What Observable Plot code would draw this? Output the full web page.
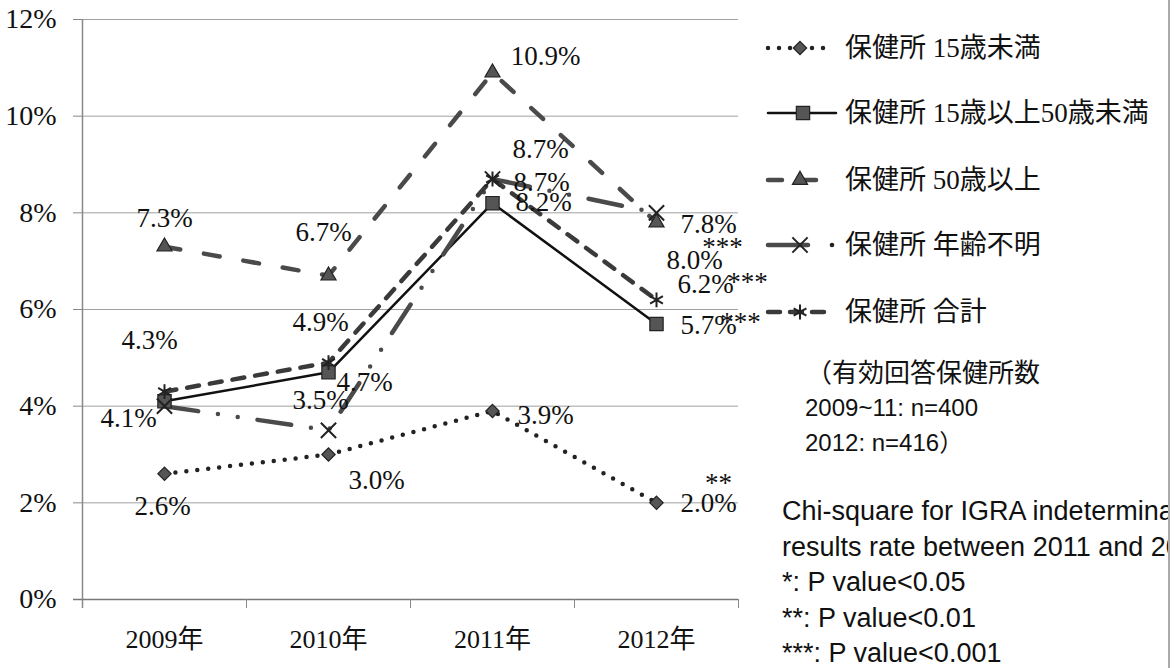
<!DOCTYPE html>
<html><head><meta charset="utf-8">
<script src="https://cdn.jsdelivr.net/npm/d3@7"></script>
<script src="https://cdn.jsdelivr.net/npm/@observablehq/plot@0.6"></script>
<style>
body{margin:0;background:#fff;}
#wrap{position:relative;width:1175px;height:668px;overflow:hidden;background:#fff;}
#chart,#overlay{position:absolute;left:0;top:0;}
.note{position:absolute;font-family:"Liberation Sans","Noto Sans CJK JP",sans-serif;font-size:24px;color:#111;white-space:nowrap;line-height:1;}
#stats{position:absolute;left:782px;top:496px;width:386px;overflow:hidden;}
#stats div{font-family:"Liberation Sans",sans-serif;font-size:27px;color:#111;white-space:nowrap;height:35.5px;line-height:30px;}
#border{position:absolute;left:1168px;top:0;width:2px;height:668px;background:#aaa;}
</style></head>
<body><div id="wrap"><div id="chart"></div><svg id="overlay" width="1175" height="668"></svg>
<div class="note" style="left:806px;top:360px;font-size:26px;">（有効回答保健所数</div>
<div class="note" style="left:805px;top:396px;">2009~11: n=400</div>
<div class="note" style="left:805px;top:431px;">2012: n=416）</div>
<div id="stats"></div>
<div id="border"></div>
</div>
<script>
// ---- data ----
const years = ["2009年", "2010年", "2011年", "2012年"];
const seriesNames = ["保健所 15歳未満", "保健所 15歳以上50歳未満", "保健所 50歳以上", "保健所 年齢不明", "保健所 合計"];
const under15 = [2.6, 3.0, 3.9, 2.0];
const age15to50 = [4.1, 4.7, 8.2, 5.7];
const over50 = [7.3, 6.7, 10.9, 7.8];
const ageUnknown = [4.0, 3.5, 8.7, 8.0];
const total = [4.3, 4.9, 8.7, 6.2];
const sig2012 = ["**", "***", "***", "", "***"];
const yTicks = [0, 2, 4, 6, 8, 10, 12];
const statLines = [
  "Chi-square for IGRA indeterminate",
  "results rate between 2011 and 2012",
  "*: P value<0.05",
  "**: P value<0.01",
  "***: P value<0.001"
];

// ---- styling / layout ----
const seriesValues = [under15, age15to50, over50, ageUnknown, total];
const styles = [
  {stroke: "#222", width: 4.5, dash: "0 11", symbol: "diamond2", r: 6},
  {stroke: "#111", width: 2.5, dash: null, symbol: "square", r: 7.5},
  {stroke: "#4a4a4a", width: 4.5, dash: "16 24", symbol: "triangle", r: 5.6},
  {stroke: "#4a4a4a", width: 4.5, dash: "34 20 0 20 0 20", symbol: "times", r: 7},
  {stroke: "#3a3a3a", width: 4.5, dash: "12 11", symbol: "asterisk", r: 7}
];
const labelOffsets = [
  [[-2, 33], [48, 26], [53, 4], [52, 1]],
  [[-36, 17], [36, 10], [51, -1], [52, 1]],
  [[0, -28], [-5, -43], [53, -16], [52, 2]],
  [null, [-8, -30], [49, 3], [38, 48]],
  [[-15, -51], [-8, -40], [48, -30], [49, -15]]
];
const starOffsets = [[62, -19], [84, -2], [66, 25], null, [91, -17]];

const rows = [];
seriesValues.forEach((vals, si) => vals.forEach((v, i) => rows.push({s: si, name: seriesNames[si], i, x: i + 0.5, y: v})));

const serif = "'Liberation Serif','Noto Sans CJK JP',serif";
const marks = [];
// grid
marks.push(Plot.ruleY(yTicks.filter(d => d > 0), {stroke: "#a0a0a0", strokeWidth: 1}));
marks.push(Plot.axisY({ticks: yTicks, tickFormat: d => d + "%", tickSize: 9, tickPadding: 17, stroke: "#888", fill: "#111", fontSize: 28, fontFamily: serif, label: null}));
marks.push(Plot.ruleX([0], {stroke: "#888", strokeWidth: 1.5, insetBottom: -9}));
marks.push(Plot.ruleY([0], {stroke: "#777", strokeWidth: 1.5, insetLeft: -9}));
marks.push(Plot.axisX({ticks: d3.range(years.length + 1), tickFormat: () => "", tickSize: 9, stroke: "#888", label: null}));
marks.push(Plot.axisX({ticks: years.map((d, i) => i + 0.5), tickFormat: d => years[Math.floor(d)], tickSize: 0, tickPadding: 30, fill: "#111", fontSize: 26, fontFamily: serif, label: null}));
// lines
seriesValues.forEach((vals, si) => {
  const st = styles[si];
  const data = rows.filter(r => r.s === si);
  marks.push(Plot.line(data, {x: "x", y: "y", stroke: st.stroke, strokeWidth: st.width, strokeDasharray: st.dash, strokeLinecap: "round", strokeLinejoin: "round"}));
});
seriesValues.forEach((vals, si) => {
  const st = styles[si];
  const data = rows.filter(r => r.s === si);
  const filled = ["diamond2", "square", "triangle"].includes(st.symbol);
  marks.push(Plot.dot(data, {x: "x", y: "y", symbol: () => st.symbol, r: st.r, fill: filled ? "#555" : "none", stroke: "#222", strokeWidth: filled ? 1.2 : 2}));
});
// value labels
seriesValues.forEach((vals, si) => {
  vals.forEach((v, i) => {
    const off = labelOffsets[si][i];
    if (!off) return;
    marks.push(Plot.text([rows.find(r => r.s === si && r.i === i)], {x: "x", y: "y", text: d => d.y.toFixed(1) + "%", dx: off[0], dy: off[1], fontSize: 27, fontFamily: serif, fill: "#111"}));
  });
  const so = starOffsets[si];
  if (so && sig2012[si]) {
    marks.push(Plot.text([rows.find(r => r.s === si && r.i === 3)], {x: "x", y: "y", text: () => sig2012[si], dx: so[0], dy: so[1], fontSize: 27, fontFamily: serif, fill: "#111"}));
  }
});

const chart = Plot.plot({
  width: 1175, height: 668,
  marginLeft: 82, marginRight: 437, marginTop: 19, marginBottom: 69,
  x: {type: "linear", domain: [0, years.length]},
  y: {domain: [0, 12]},
  style: {background: "transparent", color: "#111"},
  marks
});
document.getElementById("chart").appendChild(chart);

// legend
const ov = d3.select("#overlay");
const legY = [48, 113, 180, 245, 312];
const symbolMap = {diamond2: d3.symbolDiamond2, square: d3.symbolSquare, triangle: d3.symbolTriangle, times: d3.symbolTimes, asterisk: d3.symbolAsterisk};
seriesNames.forEach((name, si) => {
  const st = styles[si];
  const y = legY[si];
  const g = ov.append("g");
  const x2 = si === 3 ? 808 : (si === 1 ? 836 : 830);
  g.append("line").attr("x1", 768).attr("x2", x2).attr("y1", y).attr("y2", y)
    .attr("stroke", st.stroke).attr("stroke-width", st.width).attr("stroke-linecap", "round")
    .attr("stroke-dasharray", si === 2 ? "14 20" : si === 3 ? null : si === 4 ? "12 10" : st.dash);
  if (si === 3) g.append("circle").attr("cx", 832).attr("cy", y).attr("r", 2.3).attr("fill", "#222");
  const filled = ["diamond2", "square", "triangle"].includes(st.symbol);
  g.append("path").attr("transform", `translate(${si === 1 ? 803 : 800},${y})`)
    .attr("d", d3.symbol(symbolMap[st.symbol], st.r * st.r * Math.PI)())
    .attr("fill", filled ? "#555" : "none").attr("stroke", "#222").attr("stroke-width", filled ? 1.2 : 2);
  g.append("text").attr("x", 845).attr("y", y).attr("dy", "0.35em")
    .attr("font-family", serif).attr("font-size", 27).attr("fill", "#111").text(name);
});

// stats notes
const stats = d3.select("#stats");
statLines.forEach(t => stats.append("div").text(t));
</script>
</body></html>
